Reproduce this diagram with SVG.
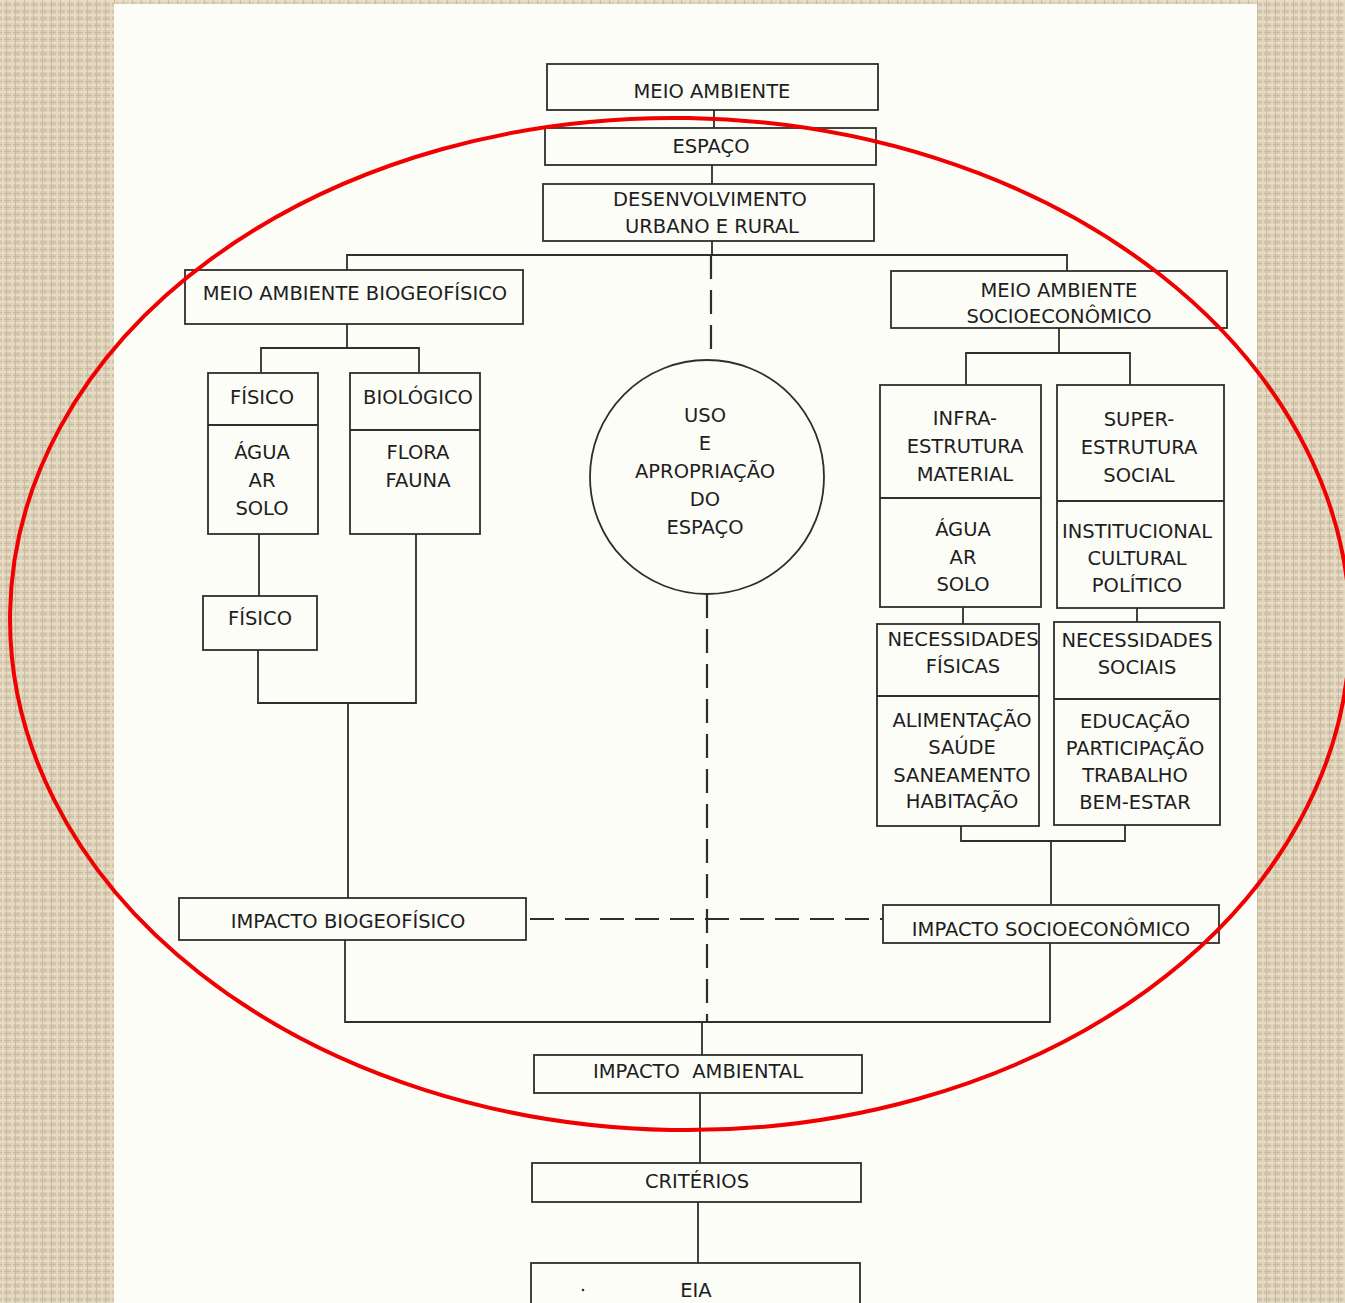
<svg xmlns="http://www.w3.org/2000/svg" width="1345" height="1303" viewBox="0 0 1345 1303">
<defs>
<pattern id="linen" width="9" height="7" patternUnits="userSpaceOnUse">
<rect width="9" height="7" fill="#d9ccb2"/>
<rect x="0" y="0" width="9" height="2" fill="#e8dec8"/>
<rect x="0" y="4" width="9" height="1" fill="#c9bb9e"/>
<rect x="2" y="0" width="2" height="7" fill="#e6dbc4" opacity="0.8"/>
<rect x="6" y="0" width="1" height="7" fill="#c5b699" opacity="0.8"/>
</pattern>
<style>
.box{fill:none;stroke:#2e2e2e;stroke-width:1.8}
.ln{fill:none;stroke:#2e2e2e;stroke-width:1.8}
.dash{fill:none;stroke:#2e2e2e;stroke-width:2.2;stroke-dasharray:24 11}
text{font-family:"DejaVu Sans","Liberation Sans",sans-serif;font-size:19.5px;fill:#1e1e1e;text-anchor:middle}
</style>
</defs>
<rect width="1345" height="1303" fill="url(#linen)"/>
<rect x="114" y="4" width="1143" height="1299" fill="#fdfdf8"/>
<g id="connectors">
<path class="ln" d="M714 110V128M712 165V184M712 241V255M347 270V255H1067V271"/>
<path class="dash" d="M711 255V360"/>
<path class="ln" d="M347 324V348M261 373V348H419V373"/>
<path class="ln" d="M259 534V596M258 650V703H416V534M348 703V898"/>
<path class="ln" d="M345 940V1022H1050V943"/>
<path class="dash" d="M530 919H883"/>
<path class="dash" d="M707 594V1022"/>
<path class="ln" d="M702 1022V1055M700 1093V1163M698 1202V1263"/>
<path class="ln" d="M1059 328V353M966 385V353H1130V385"/>
<path class="ln" d="M963 607V624M1137 608V622"/>
<path class="ln" d="M961 826V841H1125V825M1051 841V905"/>
</g>
<g id="meio-ambiente"><rect class="box" x="547" y="64" width="331" height="46"/><text x="712" y="98">MEIO AMBIENTE</text></g>
<g id="espaco"><rect class="box" x="545" y="128" width="331" height="37"/><text x="711" y="153">ESPAÇO</text></g>
<g id="desenvolvimento"><rect class="box" x="543" y="184" width="331" height="57"/><text x="710" y="206">DESENVOLVIMENTO</text><text x="712" y="233">URBANO E RURAL</text></g>
<g id="biogeofisico"><rect class="box" x="185" y="270" width="338" height="54"/><text x="355" y="300">MEIO AMBIENTE BIOGEOFÍSICO</text></g>
<g id="fisico"><rect class="box" x="208" y="373" width="110" height="161"/><path class="ln" d="M208 425H318"/><text x="262" y="404">FÍSICO</text><text x="262" y="459">ÁGUA</text><text x="262" y="487">AR</text><text x="262" y="515">SOLO</text></g>
<g id="biologico"><rect class="box" x="350" y="373" width="130" height="161"/><path class="ln" d="M350 430H480"/><text x="418" y="404">BIOLÓGICO</text><text x="418" y="459">FLORA</text><text x="418" y="487">FAUNA</text></g>
<g id="fisico2"><rect class="box" x="203" y="596" width="114" height="54"/><text x="260" y="625">FÍSICO</text></g>
<g id="uso"><circle class="box" cx="707" cy="477" r="117"/><text x="705" y="422">USO</text><text x="705" y="450">E</text><text x="705" y="478">APROPRIAÇÃO</text><text x="705" y="506">DO</text><text x="705" y="534">ESPAÇO</text></g>
<g id="socioeconomico"><rect class="box" x="891" y="271" width="336" height="57"/><text x="1059" y="297">MEIO AMBIENTE</text><text x="1059" y="323">SOCIOECONÔMICO</text></g>
<g id="infra"><rect class="box" x="880" y="385" width="161" height="222"/><path class="ln" d="M880 498H1041"/><text x="965" y="425">INFRA-</text><text x="965" y="453">ESTRUTURA</text><text x="965" y="481">MATERIAL</text><text x="963" y="536">ÁGUA</text><text x="963" y="564">AR</text><text x="963" y="591">SOLO</text></g>
<g id="super"><rect class="box" x="1057" y="385" width="167" height="223"/><path class="ln" d="M1057 501H1224"/><text x="1139" y="426">SUPER-</text><text x="1139" y="454">ESTRUTURA</text><text x="1139" y="482">SOCIAL</text><text x="1137" y="538">INSTITUCIONAL</text><text x="1137" y="565">CULTURAL</text><text x="1137" y="592">POLÍTICO</text></g>
<g id="nec-fisicas"><rect class="box" x="877" y="624" width="162" height="202"/><path class="ln" d="M877 696H1039"/><text x="963" y="646">NECESSIDADES</text><text x="963" y="673">FÍSICAS</text><text x="962" y="727">ALIMENTAÇÃO</text><text x="962" y="754">SAÚDE</text><text x="962" y="782">SANEAMENTO</text><text x="962" y="808">HABITAÇÃO</text></g>
<g id="nec-sociais"><rect class="box" x="1054" y="622" width="166" height="203"/><path class="ln" d="M1054 699H1220"/><text x="1137" y="647">NECESSIDADES</text><text x="1137" y="674">SOCIAIS</text><text x="1135" y="728">EDUCAÇÃO</text><text x="1135" y="755">PARTICIPAÇÃO</text><text x="1135" y="782">TRABALHO</text><text x="1135" y="809">BEM-ESTAR</text></g>
<g id="impacto-bio"><rect class="box" x="179" y="898" width="347" height="42"/><text x="348" y="928">IMPACTO BIOGEOFÍSICO</text></g>
<g id="impacto-socio"><rect class="box" x="883" y="905" width="336" height="38"/><text x="1051" y="936">IMPACTO SOCIOECONÔMICO</text></g>
<g id="impacto-ambiental"><rect class="box" x="534" y="1055" width="328" height="38"/><text x="698" y="1078" xml:space="preserve">IMPACTO  AMBIENTAL</text></g>
<g id="criterios"><rect class="box" x="532" y="1163" width="329" height="39"/><text x="697" y="1188">CRITÉRIOS</text></g>
<g id="eia"><rect class="box" x="531" y="1263" width="329" height="50"/><text x="696" y="1297">EIA</text></g>
<circle cx="583" cy="1290" r="1.3" fill="#333"/>
<ellipse cx="680" cy="624" rx="670" ry="506" fill="none" stroke="#f00000" stroke-width="4" transform="rotate(1 680 624)"/>
</svg>
